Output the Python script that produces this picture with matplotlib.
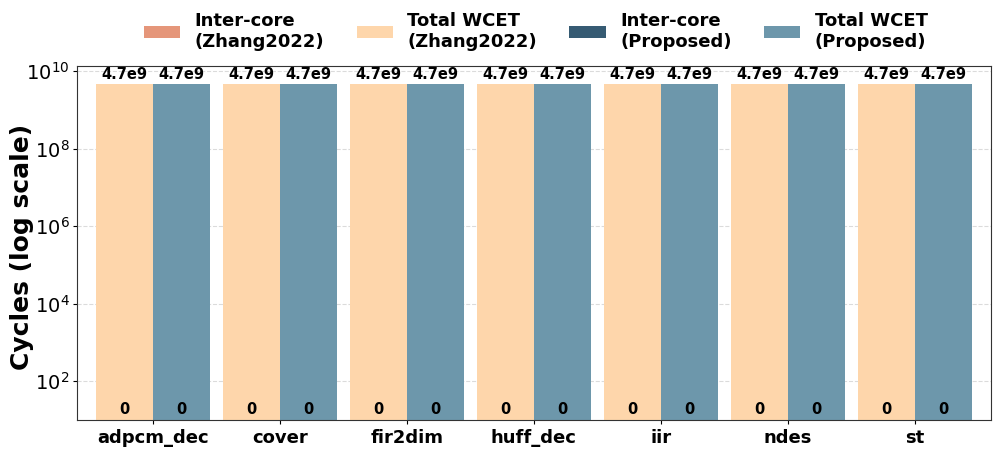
import matplotlib.pyplot as plt
import numpy as np

benchmarks = ["adpcm_dec", "cover", "fir2dim", "huff_dec", "iir", "ndes", "st"]
inter_zhang = [0, 0, 0, 0, 0, 0, 0]
total_zhang = [4.7e9, 4.7e9, 4.7e9, 4.7e9, 4.7e9, 4.7e9, 4.7e9]
inter_prop = [0, 0, 0, 0, 0, 0, 0]
total_prop = [4.7e9, 4.7e9, 4.7e9, 4.7e9, 4.7e9, 4.7e9, 4.7e9]

c_inter_zhang = "#E5967A"
c_total_zhang = "#FED6AB"
c_inter_prop = "#365B73"
c_total_prop = "#6D97AB"

x = np.arange(len(benchmarks))
w = 0.45
bottom = 10

fig = plt.figure(figsize=(9.96, 4.49), dpi=100)
ax = fig.add_axes([0.077, 0.065, 0.918, 0.788])

# total bars first, inter-core drawn on top (zero -> invisible on log scale)
b1 = ax.bar(x - w/2, np.array(total_zhang) - bottom, w, bottom=bottom,
            color=c_total_zhang, label="Total WCET\n(Zhang2022)")
b2 = ax.bar(x + w/2, np.array(total_prop) - bottom, w, bottom=bottom,
            color=c_total_prop, label="Total WCET\n(Proposed)")
b3 = ax.bar(x - w/2, inter_zhang, w, bottom=bottom,
            color=c_inter_zhang, label="Inter-core\n(Zhang2022)")
b4 = ax.bar(x + w/2, inter_prop, w, bottom=bottom,
            color=c_inter_prop, label="Inter-core\n(Proposed)")

for xs, vals in [(x - w/2, total_zhang), (x + w/2, total_prop)]:
    for xi, v in zip(xs, vals):
        ax.text(xi, v * 1.08, f"{v:.1e}".replace("e+0", "e"), ha="center", va="bottom",
                fontsize=10.5, fontweight="bold")
for xs, vals in [(x - w/2, inter_zhang), (x + w/2, inter_prop)]:
    for xi, v in zip(xs, vals):
        ax.text(xi, 11.5, f"{v}", ha="center", va="bottom",
                fontsize=10.5, fontweight="bold")

ax.set_yscale("log")
ax.set_ylim(10, 1.35e10)
ax.set_xlim(-0.6, 6.6)
ax.set_xticks(x)
ax.set_xticklabels(benchmarks, fontsize=13, fontweight="bold")
ax.set_yticks([1e2, 1e4, 1e6, 1e8, 1e10])
ax.minorticks_off()
ax.tick_params(axis="y", labelsize=14, pad=2, length=3)
ax.tick_params(axis="x", length=3)
ax.set_ylabel("Cycles (log scale)", fontsize=18, fontweight="bold")
ax.yaxis.set_label_coords(-0.047, 0.49)
ax.grid(axis="y", linestyle="--", color="#cccccc", alpha=0.7, linewidth=0.8)
ax.set_axisbelow(True)
for s in ax.spines.values():
    s.set_color("#333333")

fig.legend([b3, b1, b4, b2],
           ["Inter-core\n(Zhang2022)", "Total WCET\n(Zhang2022)",
            "Inter-core\n(Proposed)", "Total WCET\n(Proposed)"],
           loc="upper center", bbox_to_anchor=(0.538, 1.01), ncol=4, frameon=False,
           prop={"size": 13, "weight": "bold"}, handlelength=2.0, columnspacing=1.8)

plt.savefig("out.png", dpi=100)
plt.close()
